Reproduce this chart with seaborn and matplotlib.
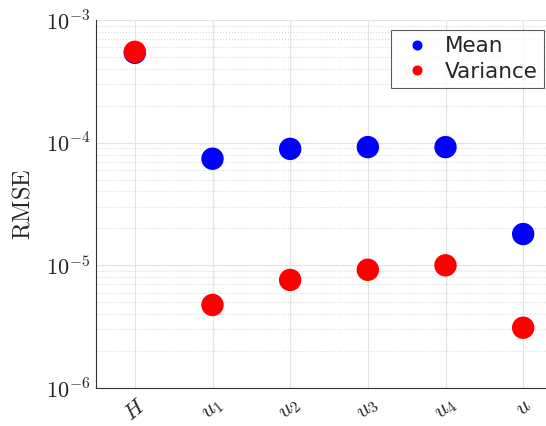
import pandas as pd
import numpy as np
import matplotlib.pyplot as plt
import seaborn as sns

# Values
labels = [r'$H$', r'$u_1$', r'$u_2$', r'$u_3$', r'$u_4$', r'$u$']
mean_rmse = [5.4e-4, 7.4e-5, 8.9e-5, 9.2e-5, 9.2e-5, 1.8e-5]
var_rmse = [5.5e-4, 4.75e-6, 7.6e-6, 9.2e-6, 1.0e-5, 3.1e-6]
y_ticks = [1e-6, 1e-5, 1e-4, 1e-3]

sns.set_style('white')
plt.rcParams['mathtext.fontset'] = 'cm'
plt.rcParams['font.family'] = ['DejaVu Sans']

df = pd.DataFrame({
    'pos': list(range(len(labels))) * 2,
    'rmse': mean_rmse + var_rmse,
    'kind': ['Mean'] * len(labels) + ['Variance'] * len(labels),
})

fig = plt.figure(figsize=(5.46, 4.26), dpi=100)
# axes runs past the right edge of the figure, as in the reference
ax = fig.add_axes([96 / 546, 38 / 426, 466 / 546, 368 / 426])

sns.scatterplot(data=df, x='pos', y='rmse', hue='kind',
                palette={'Mean': '#0000ff', 'Variance': '#ff0000'},
                s=260, linewidth=0, ax=ax, zorder=3)

ax.set_yscale('log')
ax.set_ylim(1e-6, 1e-3)
ax.set_xlim(-0.5, 5.5)
ax.set_yticks(y_ticks)
ax.set_yticklabels([r'$10^{%d}$' % int(np.log10(t)) for t in y_ticks], fontsize=16)
ax.set_xticks(range(len(labels)))
ax.set_xticklabels(labels, rotation=40, fontsize=16)
ax.tick_params(axis='x', pad=5)
ax.tick_params(axis='y', pad=4)
ax.set_xlabel('')
ax.set_ylabel(r'$\mathrm{RMSE}$', fontsize=17.5, labelpad=8)

ax.grid(True, which='major', color='#e3e3e3', linewidth=0.8)
ax.grid(True, which='minor', axis='y', color='#d8d8d8', linestyle=':', linewidth=0.8)
ax.tick_params(which='both', direction='in', length=3, color='#555555')
ax.tick_params(axis='y', which='minor', length=2)
for s in ['top', 'right']:
    ax.spines[s].set_visible(False)
for s in ['left', 'bottom']:
    ax.spines[s].set_color('#333333')
    ax.spines[s].set_linewidth(0.8)

leg = ax.legend(loc='upper right', bbox_to_anchor=(544 / 546, 1 - 30 / 426),
                bbox_transform=fig.transFigure, borderaxespad=0,
                fontsize=15.5, frameon=True, fancybox=False,
                edgecolor='#333333', markerscale=0.45, handletextpad=0.4,
                handlelength=1.8, borderpad=0.3, labelspacing=0.25)
leg.get_frame().set_linewidth(0.8)

fig.savefig('out.png', dpi=100)
